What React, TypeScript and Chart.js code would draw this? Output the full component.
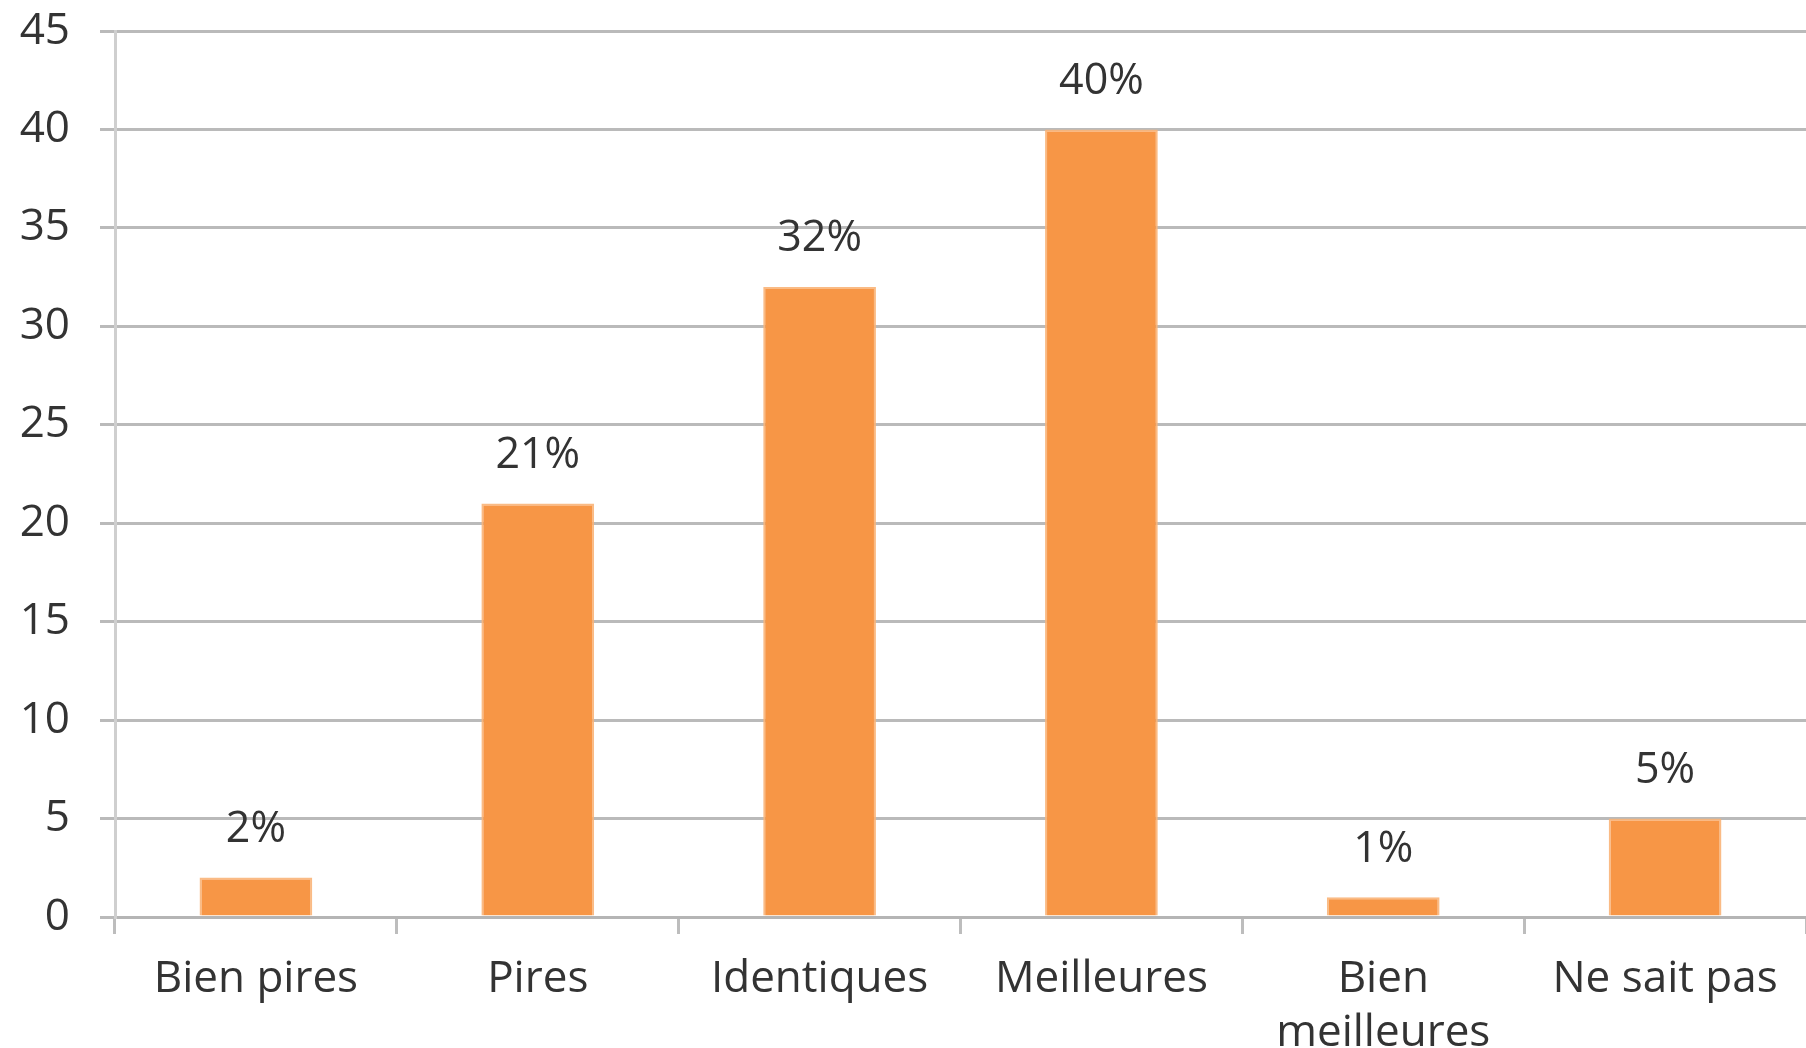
import React, { useEffect, useRef } from "react";
import { Chart, registerables } from "chart.js";

Chart.register(...registerables);

const categories: (string | string[])[] = [
  "Bien pires",
  "Pires",
  "Identiques",
  "Meilleures",
  ["Bien", "meilleures"],
  "Ne sait pas",
];
const values: number[] = [2, 21, 32, 40, 1, 5];
const yMin = 0;
const yMax = 45;
const yStep = 5;

const FONT = "'Open Sans', 'Noto Sans', sans-serif";
const TEXT = "#333333";

const valueLabels = {
  id: "valueLabels",
  afterDatasetsDraw(chart: any) {
    const ctx = chart.ctx;
    const meta = chart.getDatasetMeta(0);
    ctx.save();
    ctx.font = `43px ${FONT}`;
    ctx.fillStyle = TEXT;
    ctx.textAlign = "center";
    ctx.textBaseline = "middle";
    meta.data.forEach((bar: any, i: number) => {
      ctx.fillText(`${values[i]}%`, bar.x, bar.y - 48);
    });
    ctx.restore();
  },
};

export default function App() {
  const ref = useRef<HTMLCanvasElement | null>(null);
  useEffect(() => {
    document.body.style.margin = "0";
    const canvas = ref.current;
    if (!canvas) return;
    const chart = new Chart(canvas, {
      type: "bar",
      data: {
        labels: categories,
        datasets: [
          {
            data: values,
            backgroundColor: "#F79646",
            borderColor: "rgba(250,180,120,0.9)",
            borderWidth: 2,
            categoryPercentage: 1,
            barPercentage: 0.4,
          },
        ],
      },
      options: {
        responsive: false,
        animation: false,
        layout: { padding: { top: 31, right: 0, left: 0, bottom: 0 } },
        plugins: {
          legend: { display: false },
          tooltip: { enabled: false },
        },
        scales: {
          x: {
            offset: true,
            grid: {
              offset: true,
              drawOnChartArea: false,
              drawTicks: true,
              tickLength: 17,
              color: "#bdbdbd",
              lineWidth: 3,
            },
            border: { display: true, color: "#b5b5b5", width: 3 },
            ticks: {
              font: { family: FONT, size: 44, lineHeight: 1.22 },
              color: TEXT,
              padding: 19,
              maxRotation: 0,
              autoSkip: false,
            },
            afterFit(scale: any) {
              scale.height = 131;
              scale.paddingLeft = 0;
              scale.paddingRight = 0;
            },
          },
          y: {
            min: yMin,
            max: yMax,
            ticks: {
              stepSize: yStep,
              font: { family: FONT, size: 44 },
              color: TEXT,
              padding: 30,
            },
            grid: {
              color: "#bababa",
              lineWidth: 3,
              tickLength: 15,
            },
            border: { display: true, color: "#cfcfcf", width: 3 },
            afterFit(scale: any) {
              scale.width = 115;
              scale.paddingTop = 0;
              scale.paddingBottom = 0;
            },
          },
        },
      },
      plugins: [valueLabels],
    });
    return () => chart.destroy();
  }, []);
  return (
    <div style={{ position: "absolute", left: 0, top: 0, width: 1806, height: 1048, background: "#fff" }}>
      <canvas ref={ref} width={1806} height={1048} />
    </div>
  );
}
